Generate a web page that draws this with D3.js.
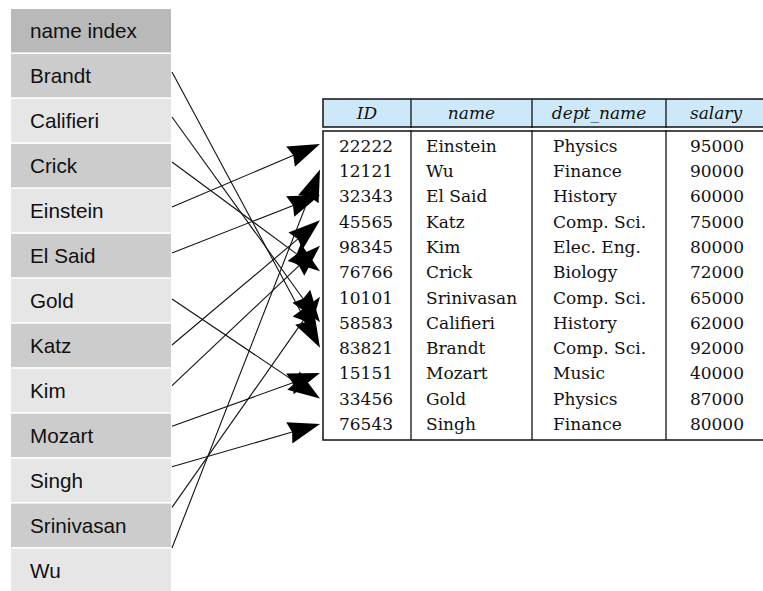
<!DOCTYPE html>
<html>
<head>
<meta charset="utf-8">
<script src="https://cdn.jsdelivr.net/npm/d3@7"></script>
<style>
  body { margin: 0; background: #fff; }
  svg { display: block; }
</style>
</head>
<body>
<svg id="chart" width="763" height="591"></svg>
<script>
// index entries (sorted) and the instructor relation they point into
const indexHeader = 'name index';
const indexNames = ['Brandt', 'Califieri', 'Crick', 'Einstein', 'El Said', 'Gold',
  'Katz', 'Kim', 'Mozart', 'Singh', 'Srinivasan', 'Wu'];

const columns = ['ID', 'name', 'dept_name', 'salary'];
const ids = ['22222', '12121', '32343', '45565', '98345', '76766', '10101', '58583', '83821', '15151', '33456', '76543'];
const names = ['Einstein', 'Wu', 'El Said', 'Katz', 'Kim', 'Crick', 'Srinivasan', 'Califieri', 'Brandt', 'Mozart', 'Gold', 'Singh'];
const depts = ['Physics', 'Finance', 'History', 'Comp. Sci.', 'Elec. Eng.', 'Biology', 'Comp. Sci.', 'History', 'Comp. Sci.', 'Music', 'Physics', 'Finance'];
const salaries = [95000, 90000, 60000, 75000, 80000, 72000, 65000, 62000, 92000, 40000, 87000, 80000];

const svg = d3.select('#chart');

// ---- index column ----
const idxY = d3.scaleBand()
  .domain([indexHeader].concat(indexNames))
  .range([9, 592])
  .paddingInner(0.035);
const idxX0 = 11, idxX1 = 171;

const idx = svg.append('g').attr('class', 'index');
idx.selectAll('rect')
  .data([indexHeader].concat(indexNames))
  .enter()
  .append('rect')
  .attr('x', idxX0)
  .attr('y', d => idxY(d))
  .attr('width', idxX1 - idxX0)
  .attr('height', idxY.bandwidth())
  .attr('fill', (d, i) => i === 0 ? '#b9b9b9' : (i % 2 ? '#cccccc' : '#e6e6e6'));

idx.selectAll('text')
  .data([indexHeader].concat(indexNames))
  .enter()
  .append('text')
  .attr('x', 30)
  .attr('y', d => idxY(d) + idxY.bandwidth() / 2)
  .attr('dy', '0.35em')
  .attr('font-family', '"Liberation Sans", Arial, sans-serif')
  .attr('font-size', 20.7)
  .attr('fill', '#111')
  .text(d => d);

// ---- relation table ----
const colX = d3.scaleOrdinal().domain(columns).range([323, 411, 532, 666]);
const colW = d3.scaleOrdinal().domain(columns).range([88, 121, 134, 100]);
const rowY = d3.scalePoint().domain(d3.range(ids.length)).range([146, 424]);
const tableRight = 766;
const headTop = 99, headBot = 127, bodyTop = 131, bodyBot = 440;

const tbl = svg.append('g').attr('class', 'table');
tbl.append('rect')
  .attr('x', colX('ID')).attr('y', headTop)
  .attr('width', tableRight - colX('ID')).attr('height', headBot - headTop)
  .attr('fill', '#cde9f9').attr('stroke', '#111').attr('stroke-width', 1.5);
tbl.append('rect')
  .attr('x', colX('ID')).attr('y', bodyTop)
  .attr('width', tableRight - colX('ID')).attr('height', bodyBot - bodyTop)
  .attr('fill', '#fff').attr('stroke', '#111').attr('stroke-width', 1.5);

// column dividers in header and body
tbl.selectAll('line.div')
  .data(columns.slice(1))
  .enter()
  .append('line')
  .attr('class', 'div')
  .attr('x1', d => colX(d)).attr('x2', d => colX(d))
  .attr('y1', headTop).attr('y2', bodyBot)
  .attr('stroke', '#111').attr('stroke-width', 1.3);
// white gap between header and body
tbl.append('rect')
  .attr('x', colX('ID') - 2).attr('y', headBot + 1)
  .attr('width', tableRight - colX('ID') + 4).attr('height', bodyTop - headBot - 2)
  .attr('fill', '#fff');

const serif = '"DejaVu Serif", "Liberation Serif", serif';
tbl.selectAll('text.head')
  .data(columns)
  .enter()
  .append('text')
  .attr('class', 'head')
  .attr('x', d => colX(d) + colW(d) / 2)
  .attr('y', (headTop + headBot) / 2)
  .attr('dy', '0.35em')
  .attr('text-anchor', 'middle')
  .attr('font-family', serif)
  .attr('font-style', 'italic')
  .attr('font-size', 17)
  .attr('fill', '#111')
  .text(d => d);

function cellCol(vals, x, anchor) {
  tbl.append('g').selectAll('text')
    .data(vals)
    .enter()
    .append('text')
    .attr('x', x)
    .attr('y', (d, i) => rowY(i))
    .attr('dy', '0.35em')
    .attr('text-anchor', anchor)
    .attr('font-family', serif)
    .attr('font-size', 17)
    .attr('fill', '#111')
    .text(d => d);
}
cellCol(ids, colX('ID') + colW('ID') / 2 - 1, 'middle');
cellCol(names, colX('name') + 15, 'start');
cellCol(depts, colX('dept_name') + 21, 'start');
cellCol(salaries, colX('salary') + 78, 'end');

// ---- pointers from index entries to records ----
const fromY = d3.scaleLinear().domain([0, 3, 6, 11]).range([72, 207, 345, 548]);
const toY = d3.scalePoint().domain(d3.range(ids.length)).range([144, 424]);
const fromX = 172, toX = 320;
const headLen = 32, headHalf = 11;

const ptrs = indexNames.map((n, i) => ({ from: i, to: names.indexOf(n) }));
const arrows = svg.append('g').attr('class', 'arrows');

ptrs.forEach(p => {
  const x0 = fromX, y0 = fromY(p.from), x1 = toX, y1 = toY(p.to);
  const len = Math.hypot(x1 - x0, y1 - y0);
  const ux = (x1 - x0) / len, uy = (y1 - y0) / len;
  const bx = x1 - ux * headLen, by = y1 - uy * headLen;
  arrows.append('line')
    .attr('x1', x0).attr('y1', y0)
    .attr('x2', bx + ux * 4).attr('y2', by + uy * 4)
    .attr('stroke', '#111').attr('stroke-width', 1.1);
  arrows.append('path')
    .attr('d', d3.line()([[x1, y1], [bx - uy * headHalf, by + ux * headHalf], [bx + ux * 3, by + uy * 3], [bx + uy * headHalf, by - ux * headHalf]]) + 'Z')
    .attr('fill', '#000');
});
</script>
</body>
</html>
